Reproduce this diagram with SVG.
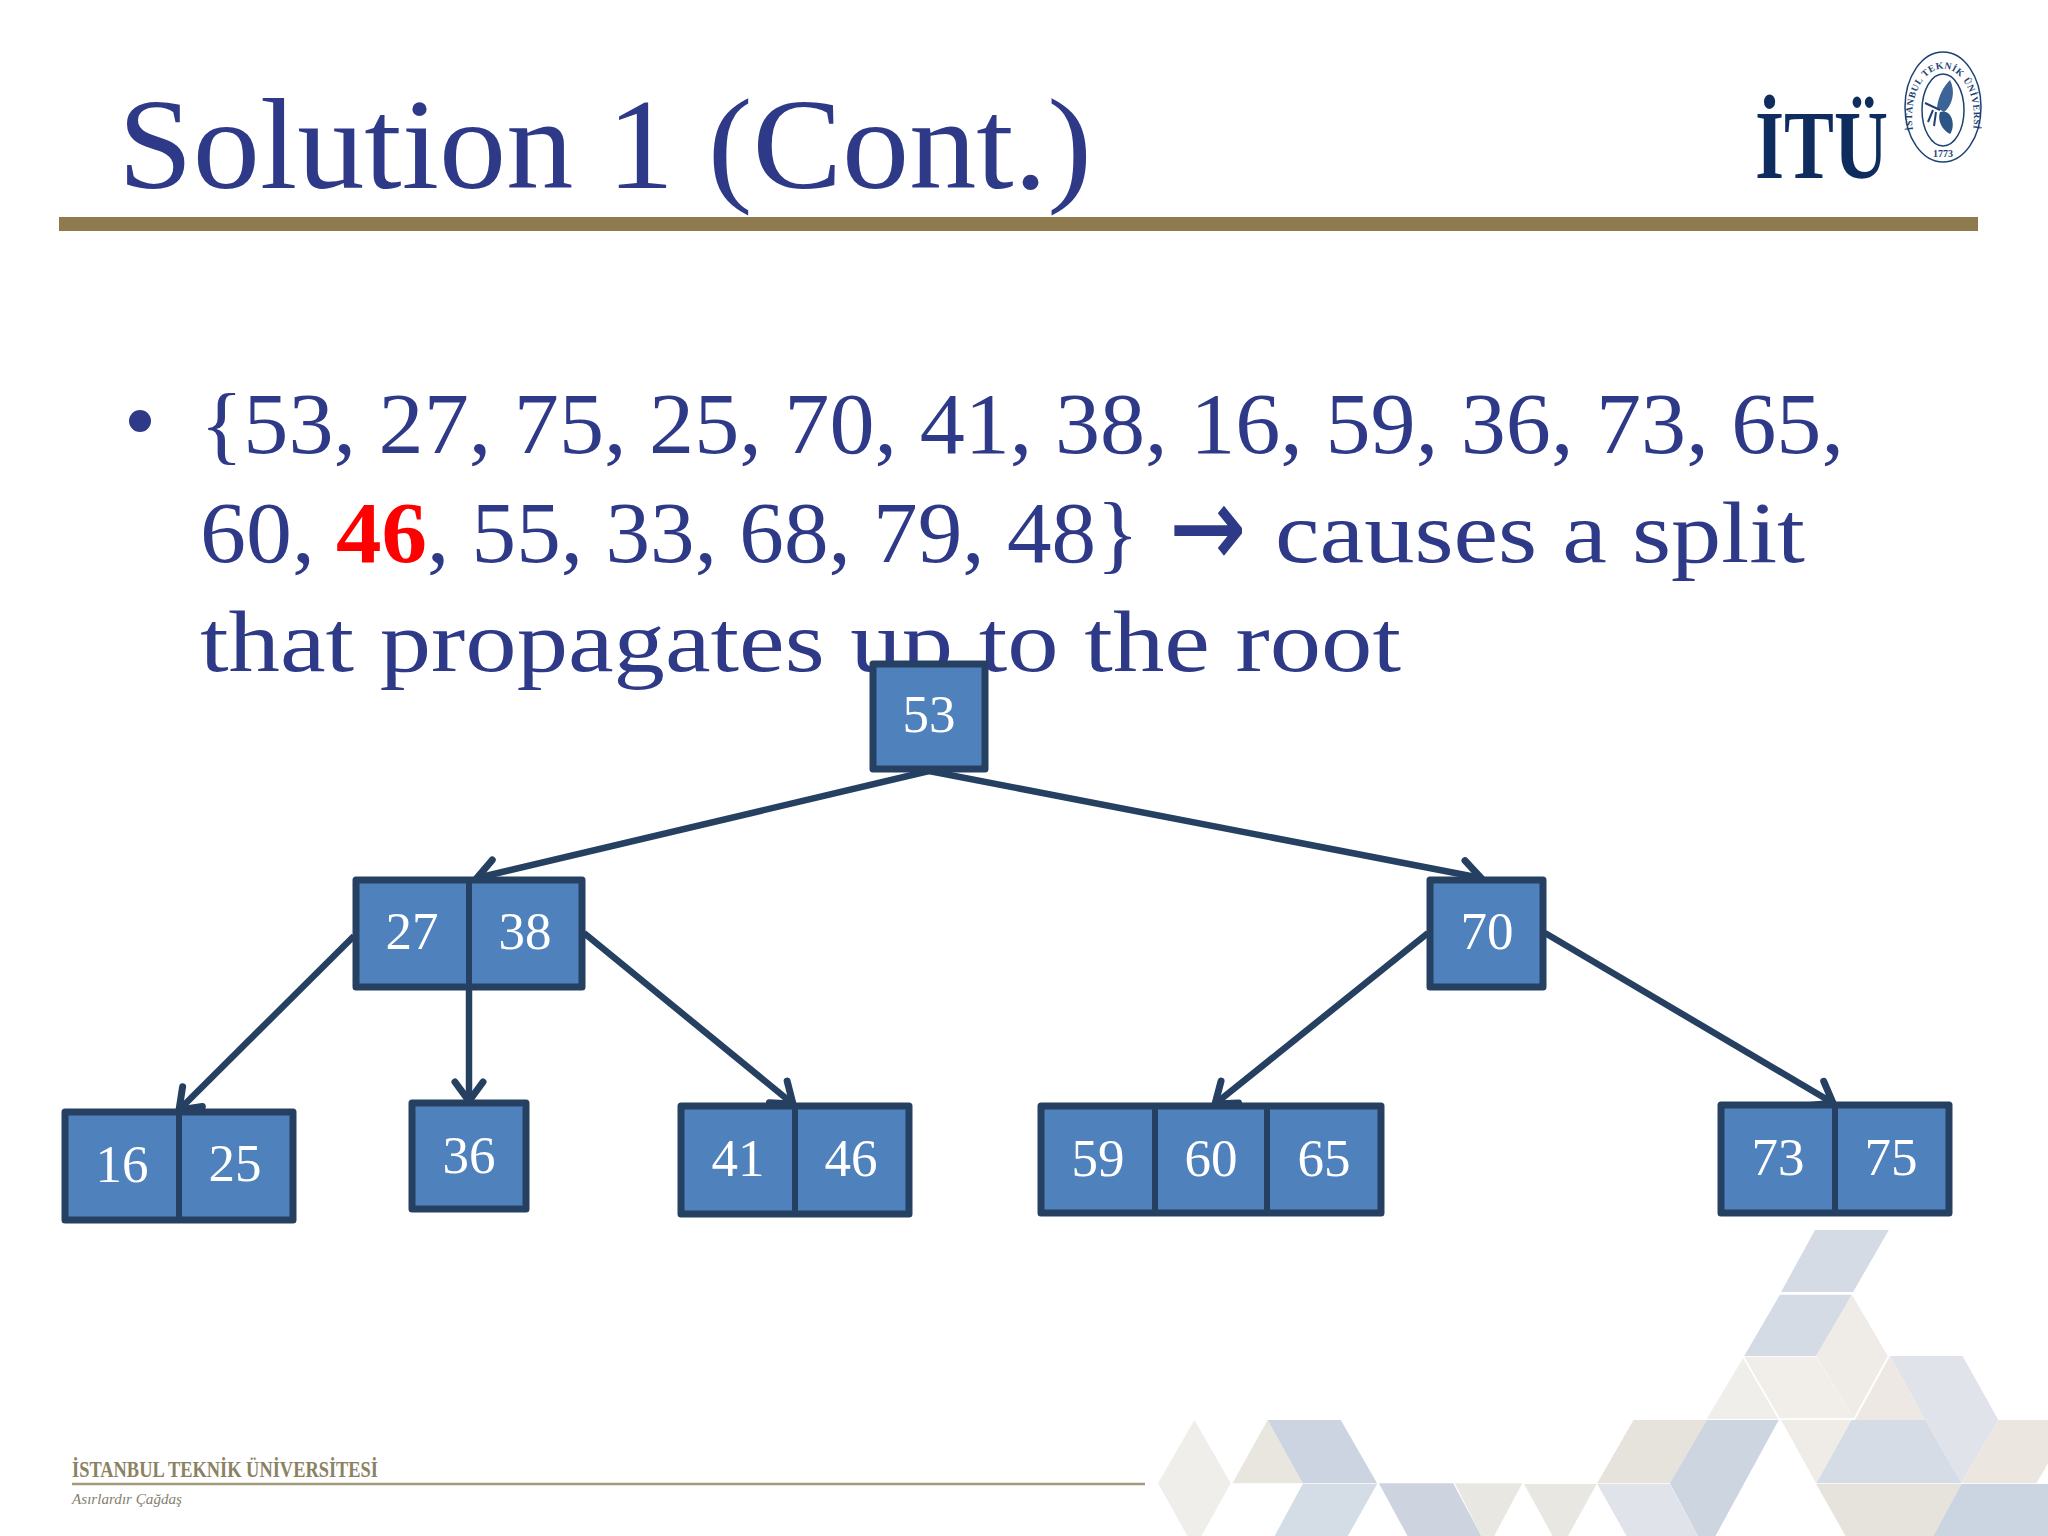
<svg xmlns="http://www.w3.org/2000/svg" width="2048" height="1536" viewBox="0 0 2048 1536">
<style>
.serif{font-family:"Liberation Serif","DejaVu Serif",serif}
.title{font-size:130px;fill:#2e3a87}
.body{font-size:86px;fill:#2e3a87}
.box{fill:#4f81bd;stroke:#254061;stroke-width:7;stroke-linejoin:round}
.div{stroke:#254061;stroke-width:6}
.num{font-family:"Liberation Serif","DejaVu Serif",serif;font-size:53px;fill:#fff;text-anchor:middle}
.conn{fill:none;stroke:#254061;stroke-width:6.5;marker-end:url(#arrow)}
.seal{fill:none;stroke:#1d4272}
</style>
<defs>
<marker id="arrow" markerUnits="userSpaceOnUse" markerWidth="44" markerHeight="44" refX="32" refY="22" viewBox="0 0 44 44" orient="auto" overflow="visible"><path d="M13,8 L32,22 L13,36" fill="none" stroke="#254061" stroke-width="7" stroke-linecap="round" stroke-linejoin="miter"/></marker>
<path id="sealArc" d="M1913,130 A31,49 0 1 1 1973,130"/>
</defs>
<rect width="2048" height="1536" fill="#fff"/>
<g id="background-shapes" transform="translate(1130,1200) scale(0.5855,0.3333)">
<polygon points="1170,90 1296,90 1235,276 1112,276" fill="#d5dbe4"/>
<polygon points="1110,284 1233,284 1172,468 1049,468" fill="#d4dbe5"/>
<polygon points="1233,284 1294,468 1236,655 1172,468" fill="#efebe7"/>
<polygon points="1049,470 1172,470 1236,655 1110,655" fill="#f1eeea"/>
<polygon points="1047,475 1107,657 985,657" fill="#efeeea"/>
<polygon points="1298,468 1422,468 1483,660 1420,850 1358,660" fill="#e0e3ea"/>
<polygon points="1298,468 1358,660 1238,660" fill="#eee8e5"/>
<polygon points="1232,660 1358,660 1420,850 1172,850" fill="#d6dce5"/>
<polygon points="1112,660 1232,660 1172,850" fill="#efece8"/>
<polygon points="860,660 985,660 922,850 798,850" fill="#e6e3dc"/>
<polygon points="985,660 1108,660 1000,1008 970,1008 922,850" fill="#cdd5e0"/>
<polygon points="798,852 922,852 970,1008 848,1008" fill="#e0e3ea"/>
<polygon points="1483,660 1568,660 1568,790 1548,850 1420,850" fill="#ebe7e0"/>
<polygon points="1172,852 1420,852 1372,1008 1222,1008" fill="#e6e3dc"/>
<polygon points="1420,852 1568,852 1568,1008 1372,1008" fill="#cbd4e1"/>
<polygon points="110,660 172,850 122,1008 98,1008 48,850" fill="#f0eeea"/>
<polygon points="235,660 295,850 175,850" fill="#e8e6df"/>
<polygon points="235,660 360,660 422,850 295,850" fill="#cbd4e0"/>
<polygon points="295,852 422,852 372,1008 247,1008" fill="#d4dce6"/>
<polygon points="425,850 552,850 600,1008 474,1008" fill="#cdd4e0"/>
<polygon points="555,850 670,850 622,1008 600,1008" fill="#e9e7e1"/>
<polygon points="673,852 797,852 748,1008 722,1008" fill="#e9e7e1"/>
</g>
<g id="header">
<text class="serif title" x="118" y="188" textLength="974" lengthAdjust="spacingAndGlyphs">Solution 1 (Cont.)</text>
<rect x="59" y="217" width="1919" height="14" fill="#8f7a4e"/>
</g>
<g id="logo">
<text class="serif" x="1755" y="178" font-size="97" font-weight="700" fill="#0e2d5e" textLength="133" lengthAdjust="spacingAndGlyphs">İTÜ</text>
<ellipse class="seal" cx="1943" cy="107" rx="38" ry="55" stroke-width="1.5"/>
<ellipse class="seal" cx="1943" cy="110" rx="21" ry="36" stroke-width="1.5"/>
<text class="serif" font-size="9.5" font-weight="700" fill="#1d4272" letter-spacing="0.6"><textPath href="#sealArc">İSTANBUL TEKNİK ÜNİVERSİTESİ</textPath></text>
<text class="serif" x="1943" y="157" font-size="10" font-weight="700" fill="#1d4272" text-anchor="middle">1773</text>
<path d="M1950,80 C1956,92 1952,106 1944,112 L1937,108 C1938,96 1944,86 1950,80Z" fill="#3c6496"/>
<path d="M1940,112 C1952,108 1956,126 1950,134 C1942,130 1937,120 1940,112Z" fill="#2c5486"/>
<path d="M1925,103 L1940,110 M1933,110 L1928,122 M1936,112 L1934,126" fill="none" stroke="#1d4272" stroke-width="2"/>
</g>
<g id="bullet-text">
<circle cx="140" cy="421" r="11" fill="#2e3a87"/>
<text class="serif body" x="200" y="453" textLength="1644" lengthAdjust="spacingAndGlyphs">{53, 27, 75, 25, 70, 41, 38, 16, 59, 36, 73, 65,</text>
<text class="serif body" x="200" y="562" textLength="115" lengthAdjust="spacingAndGlyphs">60,</text>
<text class="serif" x="336" y="562" font-size="86" font-weight="700" fill="#ff0000" textLength="91" lengthAdjust="spacingAndGlyphs">46</text>
<text class="serif body" x="427" y="562" textLength="712" lengthAdjust="spacingAndGlyphs">, 55, 33, 68, 79, 48}</text>
<text x="1170" y="566" font-family="'DejaVu Sans',sans-serif" font-size="112" fill="#2e3a87" stroke="#2e3a87" stroke-width="1.5" textLength="76" lengthAdjust="spacingAndGlyphs">→</text>
<text class="serif body" x="1275" y="562" textLength="530" lengthAdjust="spacingAndGlyphs">causes a split</text>
<text class="serif body" x="200" y="671" textLength="1201" lengthAdjust="spacingAndGlyphs">that propagates up to the root</text>
</g>
<g id="connectors">
<line class="conn" x1="929" y1="771" x2="477" y2="878"/>
<line class="conn" x1="929" y1="771" x2="1481" y2="878"/>
<line class="conn" x1="354" y1="936" x2="179" y2="1110"/>
<line class="conn" x1="469" y1="989" x2="469" y2="1101"/>
<line class="conn" x1="584" y1="933" x2="793" y2="1104"/>
<line class="conn" x1="1428" y1="933" x2="1215" y2="1104"/>
<line class="conn" x1="1545" y1="933" x2="1833" y2="1103"/>
</g>
<g id="node-53"><rect class="box" x="873" y="664" width="112" height="105"/><text class="num" x="929" y="732">53</text></g>
<g id="node-27-38"><rect class="box" x="356" y="880" width="226" height="107"/><line class="div" x1="469" y1="880" x2="469" y2="987"/><text class="num" x="412" y="949">27</text><text class="num" x="525" y="949">38</text></g>
<g id="node-70"><rect class="box" x="1430" y="880" width="113" height="107"/><text class="num" x="1487" y="949">70</text></g>
<g id="node-16-25"><rect class="box" x="65" y="1112" width="228" height="108"/><line class="div" x1="179" y1="1112" x2="179" y2="1220"/><text class="num" x="122" y="1182">16</text><text class="num" x="235" y="1181">25</text></g>
<g id="node-36"><rect class="box" x="412" y="1103" width="114" height="106"/><text class="num" x="469" y="1173">36</text></g>
<g id="node-41-46"><rect class="box" x="681" y="1106" width="228" height="108"/><line class="div" x1="795" y1="1106" x2="795" y2="1214"/><text class="num" x="738" y="1176">41</text><text class="num" x="851" y="1176">46</text></g>
<g id="node-59-60-65"><rect class="box" x="1041" y="1106" width="340" height="107"/><line class="div" x1="1155" y1="1106" x2="1155" y2="1213"/><line class="div" x1="1267" y1="1106" x2="1267" y2="1213"/><text class="num" x="1098" y="1176">59</text><text class="num" x="1211" y="1176">60</text><text class="num" x="1324" y="1176">65</text></g>
<g id="node-73-75"><rect class="box" x="1721" y="1105" width="228" height="108"/><line class="div" x1="1835" y1="1105" x2="1835" y2="1213"/><text class="num" x="1778" y="1175">73</text><text class="num" x="1891" y="1175">75</text></g>
<g id="footer">
<text class="serif" x="72" y="1477" font-size="23" font-weight="700" fill="#8a8262" textLength="306" lengthAdjust="spacingAndGlyphs">İSTANBUL TEKNİK ÜNİVERSİTESİ</text>
<line x1="72" y1="1484" x2="1145" y2="1484" stroke="#a39a7c" stroke-width="2.5"/>
<text class="serif" x="72" y="1504" font-size="15" font-style="italic" fill="#85806e" textLength="110" lengthAdjust="spacingAndGlyphs">Asırlardır Çağdaş</text>
</g>
</svg>
